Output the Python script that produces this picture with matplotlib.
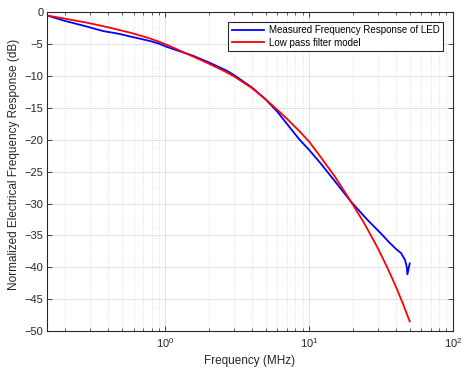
import matplotlib
matplotlib.use("Agg")
import matplotlib.pyplot as plt
from matplotlib.ticker import LogLocator, NullFormatter, MultipleLocator

plt.rcParams['font.family'] = ['Liberation Sans', 'DejaVu Sans']

# Measured frequency response (MHz, dB)
meas_freq = [0.15, 0.2, 0.28, 0.33, 0.37, 0.43, 0.48, 0.57, 0.78, 0.91, 1.0, 1.25,
             1.55, 2.0, 2.64, 3.0, 4.0, 5.0, 6.0, 7.0, 8.5, 10, 12, 14.6, 17, 19.5,
             22, 25, 30, 33.4, 36, 40, 43.6, 46.5, 47.7, 48.2, 49.2, 50]
meas_db = [-0.5, -1.35, -2.2, -2.65, -2.95, -3.2, -3.4, -3.8, -4.5, -4.95, -5.35, -6.1,
           -6.8, -7.85, -9.1, -9.85, -11.8, -13.7, -15.6, -17.5, -19.9, -21.6, -23.7,
           -26.1, -28.0, -29.7, -31.0, -32.4, -34.2, -35.3, -36.1, -37.1, -37.8,
           -38.9, -40.0, -41.1, -40.1, -39.4]

# Low pass filter model (MHz, dB)
model_freq = [0.15, 0.2, 0.28, 0.4, 0.57, 0.78, 1.0, 1.25, 1.55, 2.0, 2.6, 3.0, 4.0,
              5.0, 6.0, 7.0, 8.5, 10, 12, 15, 17, 20, 24, 30, 35, 40, 45, 50]
model_db = [-0.5, -1.0, -1.6, -2.35, -3.2, -4.1, -5.0, -5.98, -6.92, -8.05, -9.3,
            -10.05, -11.9, -13.7, -15.3, -16.7, -18.6, -20.3, -22.7, -25.7, -27.6,
            -30.1, -33.0, -37.0, -40.1, -43.0, -45.8, -48.5]

labels = ["Measured Frequency Response of LED", "Low pass filter model"]

fig = plt.figure(figsize=(4.74, 3.71), dpi=100)
ax = fig.add_axes([47/474, 1-331/371, (453-47)/474, (331-12.3)/371])

ax.semilogx(meas_freq, meas_db, color='#0000ff', lw=1.3, label=labels[0])
ax.semilogx(model_freq, model_db, color='#ff0000', lw=1.3, label=labels[1])

ax.set_xlim(0.15, 100)
ax.set_ylim(-50, 0)
ax.yaxis.set_major_locator(MultipleLocator(5))
ax.xaxis.set_major_locator(LogLocator(base=10, numticks=10))
ax.xaxis.set_minor_locator(LogLocator(base=10, subs=range(2, 10), numticks=20))
ax.xaxis.set_minor_formatter(NullFormatter())

axc = '#262626'
ax.grid(True, which='major', color='#dcdcdc', lw=0.6, ls='-')
ax.grid(True, which='minor', axis='x', color='#d4d4d4', lw=0.6, ls=(0, (1, 2)))
ax.set_axisbelow(True)
ax.tick_params(which='both', direction='in', top=True, right=True, colors=axc,
               labelsize=8)
ax.tick_params(axis='y', pad=2.5)
ax.tick_params(which='major', length=3.5, width=0.6)
ax.tick_params(which='minor', length=2, width=0.5)
for s in ax.spines.values():
    s.set_color(axc)
    s.set_linewidth(0.8)

ax.set_xlabel("Frequency (MHz)", fontsize=8.5, color=axc, labelpad=4)
ax.set_ylabel("Normalized Electrical Frequency Response (dB)", fontsize=8.5,
              color=axc, labelpad=2)
ax.yaxis.set_label_coords(-0.066, 0.524)

leg = ax.legend(loc='upper right', bbox_to_anchor=(0.975, 0.9705), borderaxespad=0,
                fontsize=7.0, fancybox=False, framealpha=1, edgecolor=axc,
                handlelength=3.3, borderpad=0.35, labelspacing=0.25, handletextpad=0.5)
leg.get_frame().set_linewidth(0.8)

fig.savefig("out.png", dpi=100)
